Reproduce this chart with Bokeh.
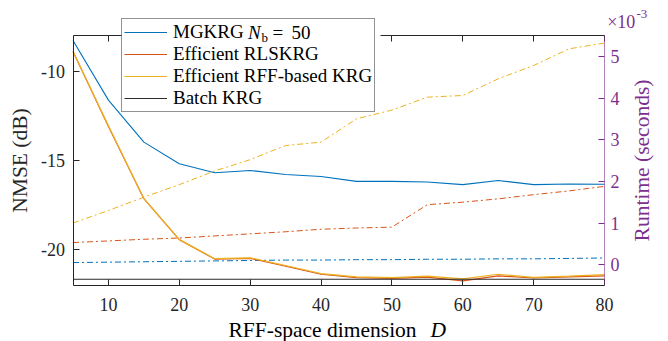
import math
from bokeh.plotting import figure
from bokeh.models import (Range1d, LinearAxis, FixedTicker, Legend, LegendItem, Label,
                          BoxAnnotation)
from bokeh.embed import file_html
from bokeh.resources import INLINE

# ---- data ----
D = [5, 10, 15, 20, 25, 30, 35, 40, 45, 50, 55, 60, 65, 70, 75, 80]
# NMSE (dB), left axis
nmse_mgkrg = [-8.28, -11.62, -13.97, -15.18, -15.69, -15.56, -15.78, -15.9, -16.17, -16.17, -16.2, -16.35, -16.12, -16.35, -16.32, -16.33]
nmse_rls = [-8.9, -13.1, -17.14, -19.43, -20.52, -20.48, -20.92, -21.37, -21.56, -21.6, -21.53, -21.74, -21.46, -21.58, -21.52, -21.46]
nmse_rff = [-8.9, -13.05, -17.14, -19.43, -20.5, -20.45, -20.88, -21.33, -21.52, -21.56, -21.48, -21.63, -21.37, -21.55, -21.48, -21.39]
nmse_batch = [-21.65] * 16
# runtime (x 10^-3 seconds), right axis
rt_mgkrg = [0.05, 0.06, 0.07, 0.08, 0.09, 0.10, 0.11, 0.11, 0.12, 0.12, 0.13, 0.13, 0.14, 0.14, 0.15, 0.16]
rt_rls = [0.53, 0.57, 0.61, 0.64, 0.69, 0.74, 0.79, 0.85, 0.88, 0.9, 1.44, 1.5, 1.58, 1.68, 1.77, 1.88]
rt_rff = [1.0, 1.3, 1.62, 1.92, 2.25, 2.52, 2.86, 2.94, 3.5, 3.71, 4.02, 4.06, 4.46, 4.78, 5.18, 5.32]

x_ticks = [10, 20, 30, 40, 50, 60, 70, 80]
nmse_ticks = [-20, -15, -10]
nmse_tick_labels = {-20: "-20", -15: "-15", -10: "-10"}
rt_ticks = [0, 1, 2, 3, 4, 5]

# axis limits
x0, x1 = 5, 80
y0, y1 = -22, -8
r0, r1 = -0.5, 5.5

# ---- layout (pixels) ----
W, H = 668, 341
L, R, T, B = 72.5, 604, 35, 285      # axes box inside the canvas
LEG_L, LEG_R, LEG_T, LEG_B = 121, 380, 14, 112   # legend box
ROW1 = 31.5                                       # middle of the first legend row

FONT = "Liberation Serif"
AX = "#262626"
PURPLE = "#7E2F8E"
BLUE, ORANGE, YELLOW, DARK = "#0072BD", "#D95319", "#EDB120", "#2b2b2b"
DASHDOT = "6 3 2 3"

kx = (R - L) / (x1 - x0)
ky = (B - T) / (y1 - y0)
kr = (B - T) / (r1 - r0)
xr = Range1d(x0 - L / kx, x1 + (W - R) / kx)
yr = Range1d(y0 - (H - B) / ky, y1 + T / ky)

p = figure(width=W, height=H, output_backend="svg", toolbar_location=None,
           x_range=xr, y_range=yr, x_axis_location=None, y_axis_location=None, min_border=0)
p.outline_line_color = None
p.grid.visible = False
p.extra_y_ranges = {"rt": Range1d(r0 - (H - B) / kr, r1 + T / kr)}

def make_axis(ticks, color=AX, label_color=AX, **kw):
    ax = LinearAxis(**kw)
    ax.ticker = FixedTicker(ticks=ticks)
    ax.major_tick_in = 6
    ax.major_tick_out = 0
    ax.minor_tick_line_color = None
    ax.axis_line_color = color
    ax.major_tick_line_color = color
    ax.major_label_text_font = FONT
    ax.major_label_text_font_size = "18px"
    ax.major_label_text_color = label_color
    ax.axis_label_text_font = FONT
    ax.axis_label_text_font_size = "21.5px"
    ax.axis_label_text_font_style = "normal"
    ax.axis_label_text_color = label_color
    return ax

xa = make_axis(x_ticks, fixed_location=y0, bounds=(x0, x1))
xa.major_label_standoff = 12
p.add_layout(xa, "below")

top = make_axis(x_ticks, fixed_location=y1, bounds=(x0, x1))
top.major_label_overrides = {t: "" for t in x_ticks}
p.add_layout(top, "above")

ya = make_axis(nmse_ticks, fixed_location=x0, bounds=(y0, y1))
ya.major_label_overrides = nmse_tick_labels
ya.major_label_standoff = 8
ya.axis_label = "NMSE (dB)"
ya.axis_label_standoff = 7
p.add_layout(ya, "left")

ra = make_axis(rt_ticks, color=PURPLE, label_color=PURPLE, y_range_name="rt",
               fixed_location=x1, bounds=(r0, r1))
ra.axis_line_alpha = 0.6
ra.major_label_standoff = 6
p.add_layout(ra, "right")

# runtime (dash-dot, right axis)
p.line(D, rt_mgkrg, y_range_name="rt", color=BLUE, line_width=1, line_dash=DASHDOT)
p.line(D, rt_rls, y_range_name="rt", color=ORANGE, line_width=1, line_dash=DASHDOT)
p.line(D, rt_rff, y_range_name="rt", color=YELLOW, line_width=1, line_dash=DASHDOT)

# NMSE (solid, left axis)
r_mg = p.line(D, nmse_mgkrg, color=BLUE, line_width=1.1)
r_rls = p.line(D, nmse_rls, color=ORANGE, line_width=1.2)
r_rff = p.line(D, nmse_rff, color=YELLOW, line_width=1.2)
r_b = p.line(D, nmse_batch, color=DARK, line_width=1.1)

# white panel behind the legend (legend itself is transparent so that the
# math part of the first entry can sit on top of the panel)
p.add_layout(BoxAnnotation(left=xr.start + LEG_L / kx, right=xr.start + LEG_R / kx,
                           top=yr.end - LEG_T / ky, bottom=yr.end - LEG_B / ky,
                           fill_color="white", fill_alpha=1, line_color=None))

def lab(text, x, y, size, color="#000000", style="normal", angle=0, align="left"):
    # x, y: canvas pixels from the top-left corner (y = middle of the text)
    p.add_layout(Label(x=x, y=H - y, x_units="screen", y_units="screen", text=text,
                       text_font=FONT, text_font_size=size, text_color=color, angle=angle,
                       text_font_style=style, text_baseline="middle", text_align=align,
                       level="overlay"))

legend = Legend(items=[LegendItem(label="MGKRG", renderers=[r_mg]),
                       LegendItem(label="Efficient RLSKRG", renderers=[r_rls]),
                       LegendItem(label="Efficient RFF-based KRG", renderers=[r_rff]),
                       LegendItem(label="Batch KRG", renderers=[r_b])],
                location=(LEG_L, H - LEG_B), label_text_font=FONT, label_text_font_size="19px",
                label_text_color="#000000", glyph_width=43, glyph_height=20, label_height=20,
                label_standoff=6, padding=2, spacing=-3, margin=0,
                border_line_color=AX, border_line_width=1, background_fill_alpha=0)
p.add_layout(legend)

# legend math: N_b = 50
lab("N", 247.5, ROW1, "19px", style="italic")
lab("b", 261, ROW1 + 5.5, "13px")
lab("=", 272, ROW1, "19px")
lab("50", 291, ROW1, "19px")
# exponent on right axis
lab("\u00d710", 606.7, 21.2, "18px", PURPLE)
lab("-3", 636, 13.5, "13px", PURPLE)
# axis labels
lab("RFF-space dimension", 228, 329.5, "21.5px")
lab("D", 430, 329.5, "21.5px", style="italic")
lab("Runtime (seconds)", 641, 160, "21.5px", PURPLE, angle=math.pi / 2, align="center")

open("out.html", "w").write(file_html(p, INLINE))
